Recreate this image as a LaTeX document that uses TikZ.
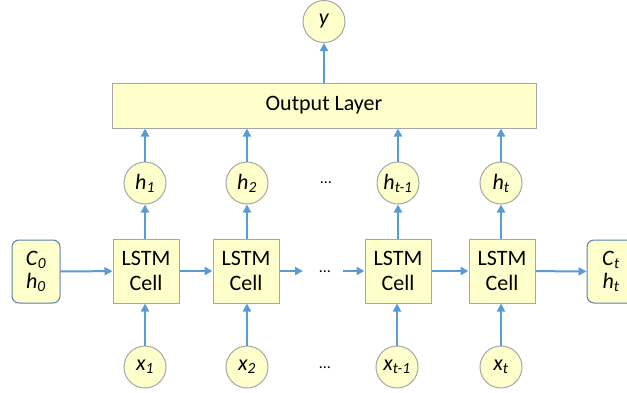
\documentclass[tikz,border=0pt]{standalone}
\usepackage{fontspec}
\setmainfont{Carlito}
\usetikzlibrary{arrows.meta}
\definecolor{boxfill}{HTML}{FFFFCC}
\definecolor{boxline}{HTML}{A6A6A6}
\definecolor{arrowblue}{HTML}{5B9BD5}
\definecolor{roundline}{HTML}{5B80AA}
\newcommand{\var}[2]{\textit{#1}\textsubscript{\textit{#2}}}
\tikzset{
  x=1pt, y=-1pt,
  every node/.style={inner sep=0pt, font=\fontsize{22}{25}\selectfont},
  cellbox/.style={draw=boxline, fill=boxfill, line width=1pt, minimum width=66pt, minimum height=64pt, align=center},
  statebox/.style={draw=roundline, fill=boxfill, line width=1pt, rounded corners=7pt, minimum width=48pt, minimum height=63pt, align=center},
  varcirc/.style={circle, draw=boxline, fill=boxfill, line width=1pt, minimum size=42pt},
  outbox/.style={draw=boxline, fill=boxfill, line width=1pt, minimum width=424pt, minimum height=45pt},
  link/.style={draw=arrowblue, line width=2pt, -{Triangle[length=8pt,width=8pt]}},
  dots/.style={font=\fontsize{16}{18}\selectfont}
}
\begin{document}
\begin{tikzpicture}
\useasboundingbox (0,0) rectangle (627,392);
% output
\node[outbox] (out) at (324,105.5) {Output Layer};
\node[varcirc] (y) at (324,21.5) {\textit{y}};
% hidden
\node[varcirc] (h1) at (145,183) {\var{h}{1}};
\node[varcirc] (h2) at (247,183) {\var{h}{2}};
\node[dots] (hd) at (326,183) {\ldots};
\node[varcirc] (h3) at (398,183) {\var{h}{t-1}};
\node[varcirc] (h4) at (501,183) {\var{h}{t}};
% cells
\node[statebox] (s0) at (36,271.5) {\var{C}{0}\\[-2pt]\var{h}{0}};
\node[cellbox] (c1) at (146,271) {LSTM\\Cell};
\node[cellbox] (c2) at (246,271) {LSTM\\Cell};
\node[dots] (cd) at (325,272) {\ldots};
\node[cellbox] (c3) at (398,271) {LSTM\\Cell};
\node[cellbox] (c4) at (502,271) {LSTM\\Cell};
\node[statebox] (st) at (611,271.5) {\var{C}{t}\\[-2pt]\var{h}{t}};
\coordinate (a1) at (303,271);
\coordinate (a2) at (343,271);
% inputs
\node[varcirc] (x1) at (145,367) {\var{x}{1}};
\node[varcirc] (x2) at (247,367) {\var{x}{2}};
\node[dots] (xd) at (325,368) {\ldots};
\node[varcirc] (x3) at (397,367) {\var{x}{t-1}};
\node[varcirc] (x4) at (501,367) {\var{x}{t}};
% horizontal links
\draw[link] (s0) -- (c1);
\draw[link] (c1) -- (c2);
\draw[link] (c2) -- (a1);
\draw[link] (a2) -- (c3);
\draw[link] (c3) -- (c4);
\draw[link] (c4) -- (st);
% vertical links
\draw[link] (x1) -- (x1 |- c1.south);
\draw[link] (x2) -- (x2 |- c2.south);
\draw[link] (x3) -- (x3 |- c3.south);
\draw[link] (x4) -- (x4 |- c4.south);
\draw[link] (h1 |- c1.north) -- (h1);
\draw[link] (h2 |- c2.north) -- (h2);
\draw[link] (h3 |- c3.north) -- (h3);
\draw[link] (h4 |- c4.north) -- (h4);
\draw[link] (h1) -- (h1 |- out.south);
\draw[link] (h2) -- (h2 |- out.south);
\draw[link] (h3) -- (h3 |- out.south);
\draw[link] (h4) -- (h4 |- out.south);
\draw[link] (out) -- (y);
\end{tikzpicture}
\end{document}
